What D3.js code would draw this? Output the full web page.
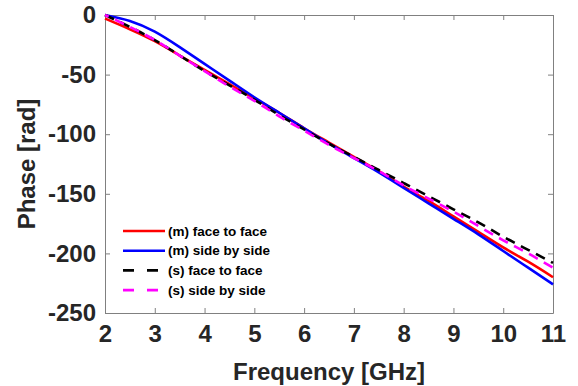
<!DOCTYPE html>
<html>
<head>
<meta charset="utf-8">
<script src="https://cdn.jsdelivr.net/npm/d3@7"></script>
<style>
  body { margin: 0; background: #fff; }
  text { font-family: "Liberation Sans", Arial, sans-serif; font-weight: bold; }
</style>
</head>
<body>
<div id="chart"></div>
<script>
// values, one point every 0.5 GHz
const freq = [2, 2.5, 3, 3.5, 4, 4.5, 5, 5.5, 6, 6.5, 7, 7.5, 8, 8.5, 9, 9.5, 10, 10.5, 11];
const mFace = [-3, -12, -22, -34, -46, -58, -70, -82, -95, -107, -119, -131, -144, -156, -169, -182, -195, -207, -220];
const mSide = [0, -5, -14, -27, -41, -55, -69, -82, -95, -108, -120, -132, -145, -158, -171, -184, -198, -212, -226];
const sFace = [0, -10, -21, -34, -47, -59, -71, -84, -96, -108, -119, -130, -141, -152, -163, -174, -186, -197, -208];
const sSide = [0, -10, -21, -34, -47, -60, -72, -85, -97, -109, -120, -131, -143, -154, -165, -177, -189, -200, -212];
const xTicks = [2, 3, 4, 5, 6, 7, 8, 9, 10, 11];
const yTicks = [0, -50, -100, -150, -200, -250];

const series = [
  { name: "(m) face to face", values: mFace, color: "#ff0000", dash: null },
  { name: "(m) side by side", values: mSide, color: "#0000ff", dash: null },
  { name: "(s) face to face", values: sFace, color: "#000000", dash: "10,7", offset: 0 },
  { name: "(s) side by side", values: sSide, color: "#ff00ff", dash: "10,7", offset: 6 }
];

const W = 578, H = 386;
const PL = 105, PR = 553, PT = 15, PB = 313;

const svg = d3.select("#chart").append("svg").attr("width", W).attr("height", H);

const x = d3.scaleLinear().domain([2, 11]).range([PL, PR]);
const y = d3.scaleLinear().domain([-250, 0]).range([PB, PT]);

const axisColor = "#808080";
// plain hyphen for negatives, the way matlab prints them
const fmt = d => String(d);

// ticks on all four sides, pointing inward like matlab
const gx = svg.append("g").attr("transform", `translate(0,${PB})`)
  .call(d3.axisBottom(x).tickValues(xTicks).tickFormat(fmt).tickSizeInner(-5).tickSizeOuter(0).tickPadding(12));
const gxTop = svg.append("g").attr("transform", `translate(0,${PT})`)
  .call(d3.axisTop(x).tickValues(xTicks).tickSizeInner(-5).tickSizeOuter(0).tickFormat(""));
const gy = svg.append("g").attr("transform", `translate(${PL},0)`)
  .call(d3.axisLeft(y).tickValues(yTicks).tickFormat(fmt).tickSizeInner(-5).tickSizeOuter(0).tickPadding(9));
const gyRight = svg.append("g").attr("transform", `translate(${PR},0)`)
  .call(d3.axisRight(y).tickValues(yTicks).tickSizeInner(-5).tickSizeOuter(0).tickFormat(""));

[gx, gxTop, gy, gyRight].forEach(g => {
  g.select(".domain").attr("stroke", axisColor);
  g.selectAll(".tick line").attr("stroke", axisColor);
  g.selectAll(".tick text").attr("fill", "#262626").attr("font-size", 24);
});
gx.selectAll(".tick text").attr("dy", "0.71em");

// axis titles
svg.append("text")
  .attr("x", (PL + PR) / 2).attr("y", 380)
  .attr("text-anchor", "middle").attr("font-size", 24).attr("fill", "#262626")
  .text("Frequency [GHz]");
svg.append("text")
  .attr("transform", `translate(35,${(PT + PB) / 2}) rotate(-90)`)
  .attr("text-anchor", "middle").attr("font-size", 24).attr("fill", "#262626")
  .text("Phase [rad]");

const line = d3.line()
  .x((d, i) => x(freq[i]))
  .y(d => y(d))
  .curve(d3.curveNatural);

svg.append("g").selectAll("path").data(series).join("path")
  .attr("d", s => line(s.values))
  .attr("fill", "none")
  .attr("stroke", s => s.color)
  .attr("stroke-width", 2.6)
  .attr("stroke-dasharray", s => s.dash)
  .attr("stroke-dashoffset", s => s.offset || 0);

// legend, no box
const leg = svg.append("g");
series.forEach((s, i) => {
  const ly = 231 + i * 19.7;
  leg.append("line")
    .attr("x1", 123).attr("x2", s.dash ? 158 : 165)
    .attr("y1", ly).attr("y2", ly)
    .attr("stroke", s.color).attr("stroke-width", 2.6)
    .attr("stroke-dasharray", s.dash ? "11,13" : null);
  leg.append("text")
    .attr("x", 168).attr("y", ly).attr("dy", "0.35em")
    .attr("font-size", 13.5).attr("fill", "#000")
    .text(s.name);
});
</script>
</body>
</html>
